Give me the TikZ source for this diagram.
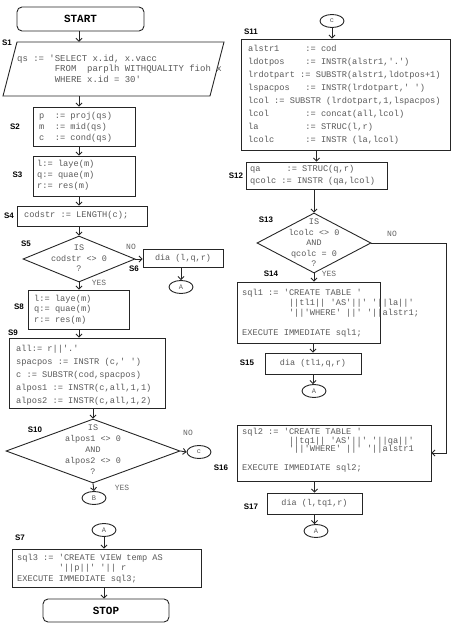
\documentclass[tikz,border=0pt]{standalone}
\usepackage{fontspec}
\setmonofont{Liberation Mono}
\setsansfont{Liberation Sans}
\usetikzlibrary{shapes.geometric,arrows.meta}
\begin{document}
\begin{tikzpicture}[x=1bp,y=-1bp,
  ln/.style={draw=black!85, line width=0.9bp},
  arr/.style={ln, -{Straight Barb[length=3bp,width=6bp]}},
  box/.style={ln, rectangle, inner sep=0},
  term/.style={ln, rectangle, rounded corners=5bp, inner sep=0, font=\fontsize{11}{12}\selectfont\ttfamily\bfseries},
  dia/.style={ln, diamond, inner sep=0},
  conn/.style={ln, ellipse, inner sep=0, minimum width=24bp, minimum height=13bp, font=\fontsize{7}{8}\selectfont\ttfamily, text=black!65},
  code/.style={inner sep=0, align=left, text=black!65},
  ctext/.style={inner sep=0, align=center, text=black!65},
  lab/.style={inner sep=0, font=\fontsize{8}{9}\selectfont\sffamily\bfseries},
  yn/.style={inner sep=0, font=\fontsize{8}{9}\selectfont\ttfamily, text=black!60}]
\useasboundingbox (0,0) rectangle (474,631);
\coordinate (cx1) at (79,0);
\coordinate (nr) at (446,0);

% ---------- left column ----------
\node[term, minimum width=127bp, minimum height=24bp] (start) at (80.5,19) {START};

\node[lab] (l1) at (7,43) {S1};
\node[inner sep=0, minimum width=207bp, minimum height=54bp] (s1) at (113.5,69) {};
\draw[ln] (17,42) -- (224,42) -- (210,96) -- (3,96) -- cycle;
\node[code, anchor=west, font=\fontsize{9}{10.5}\selectfont\ttfamily] (t1) at (17,69.5)
 {qs := 'SELECT x.id, x.vacc\\\phantom{qs~:=~'}FROM\ \ parplh WITHQUALITY fioh x\\\phantom{qs~:=~'}WHERE x.id = 30'};

\node[lab] (l2) at (15,127) {S2};
\node[box, minimum width=102bp, minimum height=39bp] (s2) at (84,126.5) {};
\node[code, anchor=west, font=\fontsize{8.7}{11}\selectfont\ttfamily] (t2) at (39,127)
 {p\ \ := proj(qs)\\m\ \ := mid(qs)\\c\ \ := cond(qs)};

\node[lab] (l3) at (17.5,175) {S3};
\node[box, minimum width=102bp, minimum height=40bp] (s3) at (84,176) {};
\node[code, anchor=west, font=\fontsize{8.7}{11}\selectfont\ttfamily] (t3) at (37,175)
 {l:= laye(m)\\q:= quae(m)\\r:= res(m)};

\node[lab] (l4) at (9,215.5) {S4};
\node[box, minimum width=130bp, minimum height=20bp] (s4) at (82,216) {};
\node[code, anchor=west, font=\fontsize{8.7}{10}\selectfont\ttfamily] (t4) at (24,215.5) {codstr := LENGTH(c);};

\node[lab] (l5) at (26,244) {S5};
\node[dia, minimum width=112bp, minimum height=46bp] (s5) at (79,259) {};
\node[ctext, font=\fontsize{8.5}{10.5}\selectfont\ttfamily] (t5) at (79,258.5) {IS\\codstr <> 0\\?};
\node[yn] (no1) at (131,247) {NO};
\node[yn] (yes1) at (99,283) {YES};

\node[lab] (l6) at (134,269) {S6};
\node[box, minimum width=80bp, minimum height=18bp] (s6) at (183,258) {};
\node[ctext, font=\fontsize{8.5}{10}\selectfont\ttfamily] (t6) at (183,258) {dia (l,q,r)};
\node[conn] (a1) at (181,287) {A};

\node[lab] (l8) at (19,307) {S8};
\node[box, minimum width=101bp, minimum height=39bp] (s8) at (78.5,309.5) {};
\node[code, anchor=west, font=\fontsize{8.7}{10.5}\selectfont\ttfamily] (t8) at (34,309.5)
 {l:= laye(m)\\q:= quae(m)\\r:= res(m)};

\node[lab] (l9) at (13,333) {S9};
\node[box, minimum width=156bp, minimum height=70bp] (s9) at (87,373) {};
\node[code, anchor=west, font=\fontsize{8.7}{13}\selectfont\ttfamily] (t9) at (16,375)
 {all:= r||'.'\\spacpos := INSTR (c,' ')\\c := SUBSTR(cod,spacpos)\\alpos1 := INSTR(c,all,1,1)\\alpos2 := INSTR(c,all,1,2)};

\node[lab] (l10) at (35,430) {S10};
\node[dia, minimum width=174bp, minimum height=64bp] (s10) at (93,451) {};
\node[ctext, font=\fontsize{8.5}{11}\selectfont\ttfamily] (t10) at (93,450)
 {IS\\alpos1 <> 0\\AND\\alpos2 <> 0\\?};
\node[yn] (no2) at (188,433) {NO};
\node[yn] (yes2) at (122,488) {YES};
\node[conn] (c1) at (199,452) {c};
\node[conn] (b1) at (94,498) {B};

\node[conn] (a2) at (104,530) {A};
\node[lab] (l7) at (20,538) {S7};
\node[box, minimum width=189bp, minimum height=38bp] (s7) at (106.5,568) {};
\node[code, anchor=west, font=\fontsize{8.7}{10.5}\selectfont\ttfamily] (t7) at (17,568.5)
 {sql3 := 'CREATE VIEW temp AS\\\phantom{sql3~:=~}'||p||' '|| r\\EXECUTE IMMEDIATE sql3;};
\node[term, minimum width=126bp, minimum height=23bp] (stop) at (106,610.5) {STOP};

% ---------- right column ----------
\node[conn] (c2) at (332,21) {c};
\node[lab] (l11) at (251,32) {S11};
\node[box, minimum width=209bp, minimum height=111bp] (s11) at (345.5,94.5) {};
\node[code, anchor=west, font=\fontsize{8.7}{13}\selectfont\ttfamily] (t11) at (248,94.5)
 {alstr1\ \ \ \ \ := cod\\ldotpos\ \ \ \ := INSTR(alstr1,'.')\\lrdotpart := SUBSTR(alstr1,ldotpos+1)\\lspacpos\ \ \ := INSTR(lrdotpart,' ')\\lcol := SUBSTR (lrdotpart,1,lspacpos)\\lcol\ \ \ \ \ \ \ := concat(all,lcol)\\la\ \ \ \ \ \ \ \ \ := STRUC(l,r)\\lcolc\ \ \ \ \ \ := INSTR (la,lcol)};

\node[lab] (l12) at (236,176) {S12};
\node[box, minimum width=141bp, minimum height=27bp] (s12) at (316.5,175.5) {};
\node[code, anchor=west, font=\fontsize{8.7}{12}\selectfont\ttfamily] (t12) at (250,175)
 {qa\ \ \ \ \ := STRUC(q,r)\\qcolc := INSTR (qa,lcol)};

\node[lab] (l13) at (266,220) {S13};
\node[dia, minimum width=114bp, minimum height=60bp] (s13) at (314,243) {};
\node[ctext, font=\fontsize{8.5}{10.5}\selectfont\ttfamily] (t13) at (314,243)
 {IS\\lcolc <> 0\\AND\\qcolc = 0\\?};
\node[yn] (no3) at (392,234) {NO};
\node[yn] (yes3) at (329,274) {YES};

\node[lab] (l14) at (271,274) {S14};
\node[box, minimum width=143bp, minimum height=61bp] (s14) at (308.5,312.5) {};
\node[code, anchor=west, font=\fontsize{8.7}{10}\selectfont\ttfamily] (t14) at (242,313)
 {sql1 := 'CREATE TABLE '\\\phantom{sql1~:=~'}||tl1|| 'AS'||' '||la||'\\\phantom{sql1~:=~'}'||'WHERE' ||' '||alstr1;\\[10bp]EXECUTE IMMEDIATE sql1;};

\node[lab] (l15) at (247,363) {S15};
\node[box, minimum width=96bp, minimum height=21bp] (s15) at (313,363.5) {};
\node[ctext, font=\fontsize{8.5}{10}\selectfont\ttfamily] (t15) at (313,363.5) {dia (tl1,q,r)};
\node[conn] (a3) at (314,391) {A};

\node[lab] (l16) at (221,468) {S16};
\node[box, minimum width=194bp, minimum height=56bp] (s16) at (334,453) {};
\node[code, anchor=west, font=\fontsize{8.7}{8.75}\selectfont\ttfamily] (t16) at (242,450)
 {sql2 := 'CREATE TABLE '\\\phantom{sql2~:=~'}||tq1|| 'AS'||' '||qa||'\\\phantom{sql2~:=~'}'||'WHERE' ||' '||alstr1\\[9.75bp]EXECUTE IMMEDIATE sql2;};

\node[lab] (l17) at (251,507) {S17};
\node[box, minimum width=95bp, minimum height=21bp] (s17) at (314.5,503.5) {};
\node[ctext, font=\fontsize{8.5}{10}\selectfont\ttfamily] (t17) at (314.5,503.5) {dia (l,tq1,r)};
\node[conn] (a4) at (316,531) {A};

% ---------- connectors ----------
\draw[arr] (cx1 |- start.south) -- (cx1 |- s1.north);
\draw[arr] (cx1 |- s1.south) -- (cx1 |- s2.north);
\draw[arr] (cx1 |- s2.south) -- (cx1 |- s3.north);
\draw[arr] (cx1 |- s3.south) -- (cx1 |- s4.north);
\draw[arr] (cx1 |- s4.south) -- (s5.north);
\draw[arr] (s5.east) -- (s5.east -| s6.west);
\draw[arr] (a1.north |- s6.south) -- (a1.north);
\draw[arr] (s5.south) -- (s5.south |- s8.north);
\draw[arr] (cx1 |- s8.south) -- (cx1 |- s9.north);
\draw[arr] (s10.north |- s9.south) -- (s10.north);
\draw[arr] (s10.east) -- (c1.west);
\draw[arr] (s10.south) -- (b1.north);
\draw[arr] (a2.south) -- (a2.south |- s7.north);
\draw[arr] (a2 |- s7.south) -- (a2 |- stop.north);

\draw[arr] (c2.south) -- (c2.south |- s11.north);
\draw[arr] (s12.north |- s11.south) -- (s12.north);
\draw[arr] (s13.north |- s12.south) -- (s13.north);
\draw[arr] (s13.south) -- (s13.south |- s14.north);
\draw[arr] (s15.north |- s14.south) -- (s15.north);
\draw[arr] (s15.south) -- (s15.south |- a3.north);
\draw[arr] (s13.east) -- (s13.east -| nr) -- (nr |- s16.east) -- (s16.east);
\draw[arr] (s17.north |- s16.south) -- (s17.north);
\draw[arr] (s17.south) -- (s17.south |- a4.north);
\end{tikzpicture}
\end{document}
